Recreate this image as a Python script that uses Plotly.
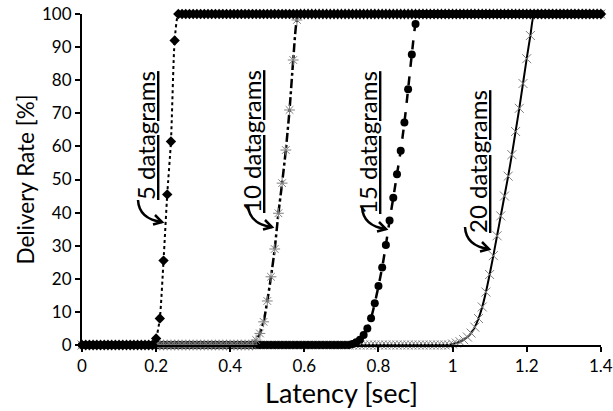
import plotly.graph_objects as go

# ---------------- data ----------------
# sampling grid of latency values [sec] for the flat 0 % / 100 % parts
latency_grid = [i / 100 for i in range(0, 141)]

# rising parts of each curve: latency [sec] and delivery rate [%]
rise5_x = [0.20, 0.21, 0.22, 0.23, 0.24, 0.25]
rise5_y = [2.0, 8.0, 25.5, 45.5, 61.5, 92.0]

rise10_x = [0.47, 0.48, 0.49, 0.50, 0.51, 0.52, 0.53, 0.54, 0.55, 0.56, 0.57, 0.58]
rise10_y = [1.5, 3.5, 7.0, 13.3, 20.6, 29.0, 39.8, 48.9, 58.9, 71.0, 86.1, 98.2]

rise15_x = [0.73, 0.74, 0.75, 0.76, 0.77, 0.78, 0.79, 0.80, 0.81, 0.82, 0.83,
            0.84, 0.85, 0.86, 0.87, 0.88, 0.89, 0.90]
rise15_y = [0.3, 0.8, 1.6, 3.0, 5.0, 8.1, 12.6, 17.8, 23.4, 30.2, 37.6,
            44.5, 51.6, 58.7, 67.2, 77.3, 87.8, 97.0]

rise20_x = [1.00, 1.01, 1.02, 1.03, 1.04, 1.05, 1.06, 1.07, 1.08, 1.09, 1.10, 1.11,
            1.12, 1.13, 1.14, 1.15, 1.16, 1.17, 1.18, 1.19, 1.20, 1.21]
rise20_y = [0.3, 0.6, 1.0, 1.6, 2.4, 3.6, 5.4, 8.0, 11.5, 16.0, 21.3, 27.0,
            33.0, 39.0, 45.0, 51.0, 57.5, 64.5, 71.5, 79.0, 86.5, 93.5]

series_names = ["5 datagrams", "10 datagrams", "15 datagrams", "20 datagrams"]
x_ticks = [0, 0.2, 0.4, 0.6, 0.8, 1, 1.2, 1.4]
x_tick_labels = ["0", "0.2", "0.4", "0.6", "0.8", "1", "1.2", "1.4"]
y_ticks = [0, 10, 20, 30, 40, 50, 60, 70, 80, 90, 100]


def full_curve(rx, ry):
    lo = [v for v in latency_grid if v < rx[0] - 1e-9]
    hi = [v for v in latency_grid if v > rx[-1] + 0.005]
    xs = lo + list(rx) + hi
    ys = [0.0] * len(lo) + list(ry) + [100.0] * len(hi)
    return xs, ys


FONT = "Lato, 'Open Sans', sans-serif"
GRAY = "#7f7f7f"

fig = go.Figure()

# drawn 20 -> 5 so that the black markers sit on top
x20, y20 = full_curve(rise20_x, rise20_y)
fig.add_trace(go.Scatter(
    x=x20, y=y20, name=series_names[3], mode="lines+markers",
    line=dict(color="black", width=2, shape="spline", smoothing=0.6),
    marker=dict(symbol="x-thin-open", size=9, color=GRAY,
                line=dict(color=GRAY, width=1)),
    cliponaxis=False))

x15, y15 = full_curve(rise15_x, rise15_y)
fig.add_trace(go.Scatter(
    x=x15, y=y15, name=series_names[2], mode="lines+markers",
    line=dict(color="black", width=2.5, dash="dash", shape="spline", smoothing=0.6),
    marker=dict(symbol="circle", size=8, color="black"),
    cliponaxis=False))

x10, y10 = full_curve(rise10_x, rise10_y)
fig.add_trace(go.Scatter(
    x=x10, y=y10, name=series_names[1], mode="lines+markers",
    line=dict(color="black", width=2.5, dash="dashdot", shape="spline", smoothing=0.6),
    marker=dict(symbol="asterisk-open", size=9, color=GRAY,
                line=dict(color=GRAY, width=1)),
    cliponaxis=False))

x5, y5 = full_curve(rise5_x, rise5_y)
fig.add_trace(go.Scatter(
    x=x5, y=y5, name=series_names[0], mode="lines+markers",
    line=dict(color="black", width=2, dash="dot", shape="spline", smoothing=0.6),
    marker=dict(symbol="diamond", size=8, color="black"),
    cliponaxis=False))

# ---------------- layout geometry ----------------
SCR_L, SCR_R, SCR_T, SCR_B = 82, 601, 14, 345      # plot area in pixels
FIG_W, FIG_H = 613, 411
W, H = SCR_R - SCR_L, SCR_B - SCR_T


def px(sx):
    return (sx - SCR_L) / W


def py(sy):
    return (SCR_B - sy) / H


label_pos = [(145, 136), (251, 142), (367, 143), (477, 162)]
arrow_start = [(138, 200), (248, 205), (362, 207), (465, 227)]

shapes = []
annotations = []
for name, (lx, ly), (sx, sy) in zip(series_names, label_pos, arrow_start):
    annotations.append(dict(
        text="<u>" + name + "</u>", x=px(lx), y=py(ly), xref="paper", yref="paper",
        textangle=-90, showarrow=False, xanchor="center", yanchor="middle",
        font=dict(family=FONT, size=24, color="black")))
    ex, ey = sx + 24, sy + 22
    cx, cy = sx + 1, sy + 19
    path = (f"M {px(sx)},{py(sy)} Q {px(cx)},{py(cy)} {px(ex)},{py(ey)}")
    shapes.append(dict(type="path", path=path, xref="paper", yref="paper",
                       line=dict(color="black", width=2.5)))
    head = (f"M {px(ex - 7)},{py(ey - 7)} L {px(ex)},{py(ey)} L {px(ex - 9)},{py(ey + 2.5)}")
    shapes.append(dict(type="path", path=head, xref="paper", yref="paper",
                       line=dict(color="black", width=2.5)))

fig.update_layout(
    width=FIG_W, height=FIG_H,
    margin=dict(l=SCR_L, r=FIG_W - SCR_R, t=SCR_T, b=FIG_H - SCR_B),
    paper_bgcolor="white", plot_bgcolor="white",
    showlegend=False,
    font=dict(family=FONT, color="black"),
    shapes=shapes, annotations=annotations,
    xaxis=dict(
        range=[0, 1.4005], tickvals=x_ticks, ticktext=x_tick_labels, automargin=False,
        ticklabeloverflow="allow",
        showgrid=False, zeroline=False, showline=True, linecolor="black", linewidth=2,
        ticks="outside", ticklen=5, tickwidth=2, tickcolor="black",
        tickfont=dict(family=FONT, size=17, color="black"),
        title=dict(text="Latency [sec]", font=dict(family=FONT, size=27, color="black"),
                   standoff=0)),
    yaxis=dict(
        range=[0, 100], tickvals=y_ticks, automargin=False,
        ticklabeloverflow="allow",
        showgrid=False, zeroline=False, showline=True, linecolor="black", linewidth=2,
        ticks="outside", ticklen=5, tickwidth=2, tickcolor="black",
        tickfont=dict(family=FONT, size=17, color="black"),
        title=dict(text="Delivery Rate [%]", font=dict(family=FONT, size=22.5, color="black"),
                   standoff=1)),
)

fig.write_html(
    "out.html",
    config={"displayModeBar": False, "staticPlot": True},
    post_script="document.body.style.margin='0';document.body.style.overflow='hidden';",
)
